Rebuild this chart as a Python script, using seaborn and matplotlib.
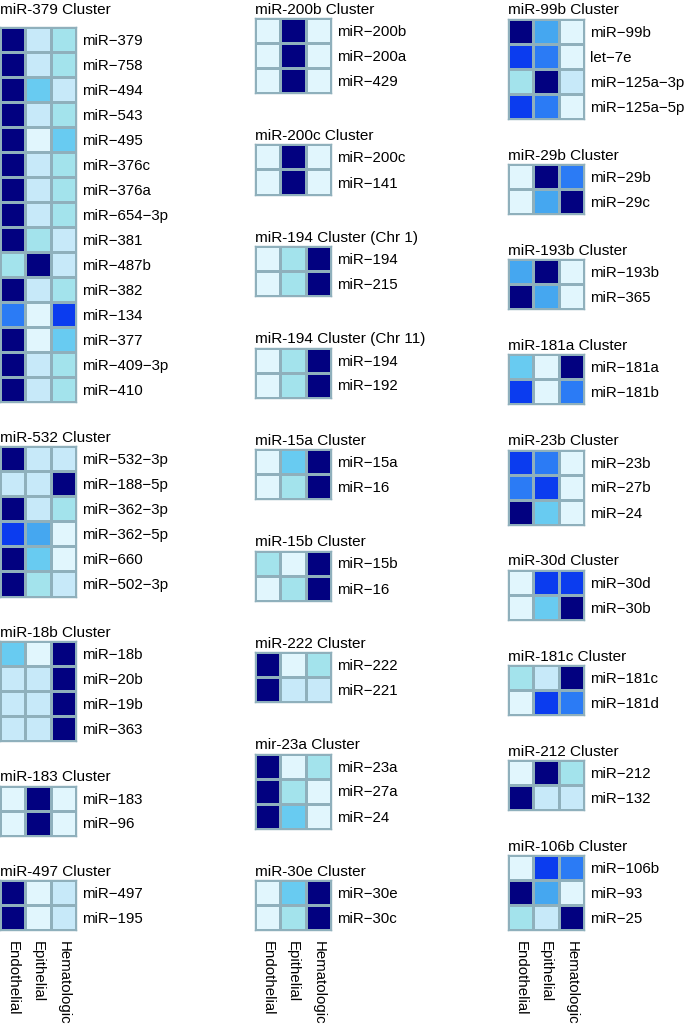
import numpy as np
import pandas as pd
import seaborn as sns
import matplotlib
matplotlib.use("Agg")
from matplotlib import pyplot as plt
from matplotlib.colors import ListedColormap

# cell types (heatmap columns)
CELL_TYPES = ["Endothelial", "Epithelial", "Hematologic"]

# expression level, 0 (lowest) .. 7 (highest)
col1_titles = ["miR-379 Cluster", "miR-532 Cluster", "miR-18b Cluster",
               "miR-183 Cluster", "miR-497 Cluster"]
col1_mirs = [
    ["miR−379", "miR−758", "miR−494", "miR−543", "miR−495", "miR−376c", "miR−376a",
     "miR−654−3p", "miR−381", "miR−487b", "miR−382", "miR−134", "miR−377",
     "miR−409−3p", "miR−410"],
    ["miR−532−3p", "miR−188−5p", "miR−362−3p", "miR−362−5p", "miR−660", "miR−502−3p"],
    ["miR−18b", "miR−20b", "miR−19b", "miR−363"],
    ["miR−183", "miR−96"],
    ["miR−497", "miR−195"],
]
col1_levels = [
    [[7, 1, 2], [7, 1, 2], [7, 3, 1], [7, 1, 2], [7, 0, 3], [7, 1, 2], [7, 1, 2],
     [7, 1, 2], [7, 2, 1], [2, 7, 1], [7, 1, 2], [5, 0, 6], [7, 0, 3],
     [7, 1, 2], [7, 1, 2]],
    [[7, 1, 1], [1, 1, 7], [7, 1, 2], [6, 4, 0], [7, 3, 0], [7, 2, 1]],
    [[3, 0, 7], [1, 1, 7], [1, 1, 7], [1, 1, 7]],
    [[0, 7, 0], [0, 7, 0]],
    [[7, 0, 1], [7, 0, 1]],
]

col2_titles = ["miR-200b Cluster", "miR-200c Cluster", "miR-194 Cluster (Chr 1)",
               "miR-194 Cluster (Chr 11)", "miR-15a Cluster", "miR-15b Cluster",
               "miR-222 Cluster", "mir-23a Cluster", "miR-30e Cluster"]
col2_mirs = [
    ["miR−200b", "miR−200a", "miR−429"],
    ["miR−200c", "miR−141"],
    ["miR−194", "miR−215"],
    ["miR−194", "miR−192"],
    ["miR−15a", "miR−16"],
    ["miR−15b", "miR−16"],
    ["miR−222", "miR−221"],
    ["miR−23a", "miR−27a", "miR−24"],
    ["miR−30e", "miR−30c"],
]
col2_levels = [
    [[0, 7, 0], [0, 7, 0], [0, 7, 0]],
    [[0, 7, 0], [0, 7, 0]],
    [[0, 2, 7], [0, 2, 7]],
    [[0, 2, 7], [0, 2, 7]],
    [[0, 3, 7], [0, 2, 7]],
    [[2, 0, 7], [0, 2, 7]],
    [[7, 0, 2], [7, 1, 1]],
    [[7, 0, 2], [7, 2, 0], [7, 3, 0]],
    [[0, 3, 7], [0, 2, 7]],
]

col3_titles = ["miR-99b Cluster", "miR-29b Cluster", "miR-193b Cluster",
               "miR-181a Cluster", "miR-23b Cluster", "miR-30d Cluster",
               "miR-181c Cluster", "miR-212 Cluster", "miR-106b Cluster"]
col3_mirs = [
    ["miR−99b", "let−7e", "miR−125a−3p", "miR−125a−5p"],
    ["miR−29b", "miR−29c"],
    ["miR−193b", "miR−365"],
    ["miR−181a", "miR−181b"],
    ["miR−23b", "miR−27b", "miR−24"],
    ["miR−30d", "miR−30b"],
    ["miR−181c", "miR−181d"],
    ["miR−212", "miR−132"],
    ["miR−106b", "miR−93", "miR−25"],
]
col3_levels = [
    [[7, 4, 0], [6, 5, 0], [2, 7, 1], [6, 5, 0]],
    [[0, 7, 5], [0, 4, 7]],
    [[4, 7, 0], [7, 4, 0]],
    [[3, 0, 7], [6, 0, 5]],
    [[6, 5, 0], [5, 6, 0], [7, 3, 0]],
    [[0, 6, 6], [0, 3, 7]],
    [[2, 1, 7], [0, 6, 5]],
    [[0, 7, 2], [7, 1, 1]],
    [[0, 6, 5], [7, 4, 0], [2, 1, 7]],
]

PALETTE = ["#e1f6fd", "#c7e9f9", "#a3e3ec", "#68cbf1",
           "#45a7f0", "#2b7bf5", "#0b3cef", "#020180"]
cmap = ListedColormap(PALETTE)
EDGE = "#8fb0bc"

W, H = 685, 1025
ROW_H = 25
BLOCK_W = 76
BOTTOM = 930
FS = 10.8
FS_TITLE = 11.1

plt.rcParams['font.family'] = ['Liberation Sans', 'DejaVu Sans']

fig = plt.figure(figsize=(W / 100, H / 100), dpi=100)

columns = [
    (0, 27, col1_titles, col1_mirs, col1_levels),
    (255, 18, col2_titles, col2_mirs, col2_levels),
    (508, 19, col3_titles, col3_mirs, col3_levels),
]

for x0, top0, titles, mirs, levels in columns:
    n_rows = sum(len(m) for m in mirs)
    gap = (BOTTOM - top0 - ROW_H * n_rows) / (len(mirs) - 1)
    top = top0
    for i in range(len(mirs)):
        h = ROW_H * len(mirs[i])
        ax = fig.add_axes([x0 / W, 1 - (top + h) / H, BLOCK_W / W, h / H])
        df = pd.DataFrame(levels[i], index=mirs[i], columns=CELL_TYPES)
        sns.heatmap(df, ax=ax, cmap=cmap, vmin=-0.5, vmax=7.5, cbar=False,
                    linewidths=0.8, linecolor=EDGE)
        for sp in ax.spines.values():
            sp.set_visible(True)
            sp.set_color(EDGE)
            sp.set_linewidth(1.0)
        ax.yaxis.tick_right()
        ax.set_yticklabels(mirs[i], rotation=0, fontsize=FS)
        ax.tick_params(axis='y', length=0, pad=4)
        ax.set_ylabel("")
        # top titles of all three columns sit on the same line
        title_pad = 3 + (top - 18) * 0.72 if i == 0 else 3
        ax.set_title(titles[i], loc='left', fontsize=FS_TITLE, pad=title_pad)
        if i == len(mirs) - 1:
            ax.set_xticklabels(CELL_TYPES, rotation=270, fontsize=FS, va='top', ha='center')
            ax.tick_params(axis='x', length=0, pad=8)
        else:
            ax.set_xticks([])
        ax.set_xlabel("")
        top = top + h + gap

plt.savefig("out.png", dpi=100)
